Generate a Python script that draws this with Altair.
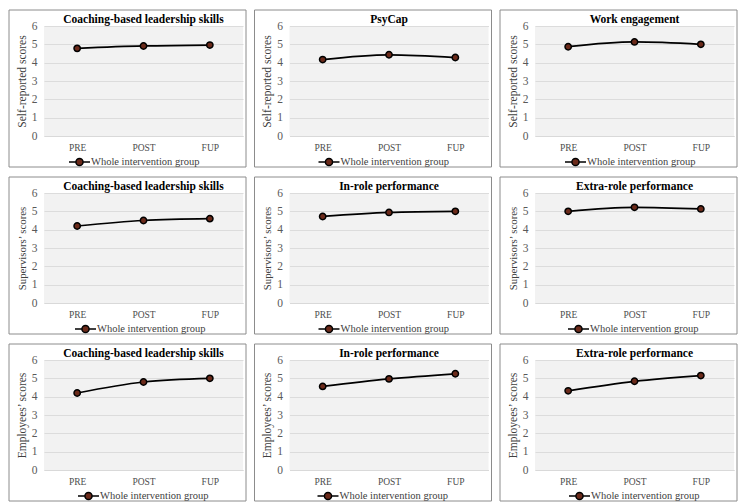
import altair as alt
import pandas as pd

phases = ["PRE", "POST", "FUP"]
series_name = "Whole intervention group"
row_labels = ["Self-reported scores", "Supervisors’ scores", "Employees’ scores"]
panel_titles = [
    ["Coaching-based leadership skills", "PsyCap", "Work engagement"],
    ["Coaching-based leadership skills", "In-role performance", "Extra-role performance"],
    ["Coaching-based leadership skills", "In-role performance", "Extra-role performance"],
]

self_coaching = [4.78, 4.91, 4.96]
self_psycap = [4.17, 4.43, 4.28]
self_engagement = [4.87, 5.13, 5.00]
sup_coaching = [4.20, 4.50, 4.60]
sup_inrole = [4.72, 4.94, 5.00]
sup_extrarole = [5.00, 5.22, 5.13]
emp_coaching = [4.20, 4.80, 5.00]
emp_inrole = [4.56, 4.97, 5.25]
emp_extrarole = [4.32, 4.84, 5.15]

panel_values = [
    [self_coaching, self_psycap, self_engagement],
    [sup_coaching, sup_inrole, sup_extrarole],
    [emp_coaching, emp_inrole, emp_extrarole],
]

# layout details (pixels)
legend_dx = [[24, 28, 29], [30, 28, 32], [33, 27, 33]]
ytitle_size = [11.5, 10.8, 11.5]

FONT = "Liberation Serif"
W, H = 199, 110
LEGEND_PATH = ("M-1,0L-0.34,0M0.34,0L1,0"
               "M0.34,0A0.34,0.34 0 1,1 -0.34,0A0.34,0.34 0 1,1 0.34,0Z")


def panel(r, c):
    title, ytitle, vals = panel_titles[r][c], row_labels[r], panel_values[r][c]
    df = pd.DataFrame({"phase": phases, "score": vals, "series": [series_name] * len(phases)})
    base = alt.Chart(df)
    x = alt.X("phase:N", sort=phases,
              scale=alt.Scale(type="point", padding=0.5),
              axis=alt.Axis(title=None, labelAngle=0))
    y = alt.Y("score:Q", scale=alt.Scale(domain=[0, 6], nice=False, zero=True),
              axis=alt.Axis(values=[0, 1, 2, 3, 4, 5, 6], title=ytitle,
                            titleFontSize=ytitle_size[r]))
    line = base.mark_line(interpolate="monotone", strokeWidth=1.75).encode(
        x=x, y=y,
        color=alt.Color("series:N",
                        scale=alt.Scale(domain=[series_name], range=["#000000"]),
                        legend=alt.Legend(
                            orient="none", legendX=legend_dx[r][c], legendY=124.5, title=None,
                            symbolType=LEGEND_PATH, symbolSize=441, symbolStrokeWidth=1.5,
                            symbolFillColor="#6B2A1A", symbolStrokeColor="#000000",
                            symbolOpacity=1,
                            labelFont=FONT, labelFontSize=10.5, labelColor="#404040",
                            labelOffset=0, padding=0,
                        )),
    )
    pts = base.mark_point(shape="circle", filled=True, size=40, fill="#6B2A1A",
                          stroke="#000000", strokeWidth=1.5, opacity=1).encode(x=x, y=y)
    box = alt.Chart(pd.DataFrame({"k": [0]})).mark_rect(
        fill="white", fillOpacity=0, stroke="#8C8C8C", strokeWidth=1
    ).encode(x=alt.value(-35), x2=alt.value(W + 3), y=alt.value(-16), y2=alt.value(H + 31))
    return alt.layer(box, line, pts).properties(
        width=W, height=H,
        title=alt.Title(title, font=FONT, fontSize=11.5, fontWeight="bold",
                        color="#000000", offset=0, dy=16, anchor="middle", frame="group"),
    )


panels = [panel(r, c) for r in range(3) for c in range(3)]

chart = alt.concat(
    *panels, columns=3, spacing={"row": 57, "column": 46.5}, bounds="flush"
).resolve_scale(
    color="independent"
).properties(
    padding={"left": 8, "top": 9, "right": 5, "bottom": 0},
    background="white",
).configure_view(
    fill="#F2F2F2", stroke=None
).configure_axisY(
    labelFont=FONT, labelFontSize=11.5, labelColor="#595959", labelPadding=7,
    titleFont=FONT, titleFontWeight="normal", titleColor="#404040",
    titlePadding=4, ticks=False, domain=False, grid=True, gridColor="#DCDCDC",
).configure_axisX(
    labelFont=FONT, labelFontSize=9.5, labelColor="#4D4D4D", labelPadding=6,
    ticks=False, domain=True, domainColor="#D9D9D9", grid=False,
)

chart.save("out.html", embed_options={"renderer": "svg", "actions": False})
